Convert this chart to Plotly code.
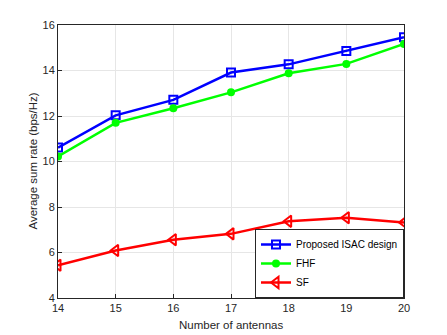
import plotly.graph_objects as go

antennas = [14, 15, 16, 17, 18, 19, 20]
proposed = [10.61, 12.03, 12.71, 13.91, 14.27, 14.86, 15.46]
fhf = [10.22, 11.70, 12.34, 13.04, 13.88, 14.29, 15.17]
sf = [5.44, 6.09, 6.56, 6.82, 7.37, 7.53, 7.32]
y_ticks = [4, 6, 8, 10, 12, 14, 16]

fig = go.Figure()
fig.add_trace(go.Scatter(x=antennas, y=proposed, mode="lines+markers", name="Proposed ISAC design",
                         line=dict(color="#0000ff", width=2.5),
                         marker=dict(symbol="square-open", size=8, color="#0000ff", line=dict(width=2))))
fig.add_trace(go.Scatter(x=antennas, y=fhf, mode="lines+markers", name="FHF",
                         line=dict(color="#00ff00", width=2.5),
                         marker=dict(symbol="circle", size=8, color="#00ff00")))
fig.add_trace(go.Scatter(x=antennas, y=sf, mode="lines+markers", name="SF",
                         line=dict(color="#ff0000", width=2.5),
                         marker=dict(symbol="triangle-left-open", size=10, color="#ff0000", line=dict(width=2))))

axis_common = dict(showline=True, linecolor="#262626", linewidth=1, mirror=True,
                   ticks="inside", ticklen=4, tickcolor="#262626", automargin=False,
                   showgrid=True, gridcolor="#e6e6e6", gridwidth=1, zeroline=False,
                   tickfont=dict(family="Liberation Sans, Arial", size=11, color="#262626"))

# page body has an 8px default margin, so the figure is sized to fit the 447x335 window
fig.update_layout(
    width=439, height=327,
    margin=dict(l=50, r=43, t=17, b=37),
    paper_bgcolor="white", plot_bgcolor="white",
    font=dict(family="Liberation Sans, Arial", color="#262626"),
    showlegend=True,
    legend=dict(x=1, y=0, xanchor="right", yanchor="bottom",
                bordercolor="#262626", borderwidth=1, bgcolor="white",
                font=dict(size=10, color="#000000"),
                tracegroupgap=0, itemwidth=30),
    xaxis=dict(range=[14, 20], tickvals=antennas, **axis_common),
    yaxis=dict(range=[4, 16], tickvals=y_ticks, **axis_common),
    annotations=[
        dict(text="Number of antennas", xref="paper", yref="paper", x=0.5, y=0,
             yshift=-27, xanchor="center", yanchor="middle", showarrow=False,
             font=dict(size=11.5, color="#262626")),
        dict(text="Average sum rate (bps/Hz)", xref="paper", yref="paper", x=0, y=0.5,
             xshift=-26, xanchor="center", yanchor="middle", textangle=-90, showarrow=False,
             font=dict(size=11.5, color="#262626")),
    ],
)

fig.write_html("out.html")
